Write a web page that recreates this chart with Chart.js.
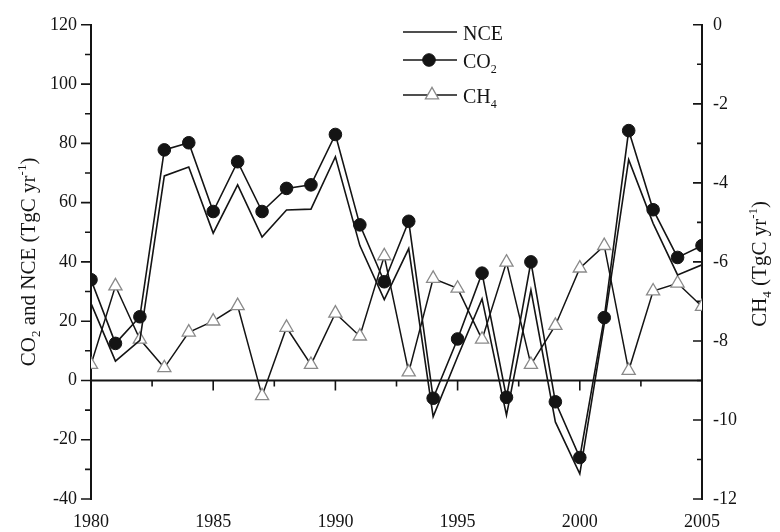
<!DOCTYPE html>
<html>
<head>
<meta charset="utf-8">
<script src="https://cdn.jsdelivr.net/npm/chart.js@4/dist/chart.umd.min.js"></script>
<style>
  body { margin: 0; background: #fff; }
</style>
</head>
<body>
<canvas id="chart" width="780" height="532"></canvas>
<script>
// data
const years = [1980, 1981, 1982, 1983, 1984, 1985, 1986, 1987, 1988, 1989, 1990, 1991, 1992,
               1993, 1994, 1995, 1996, 1997, 1998, 1999, 2000, 2001, 2002, 2003, 2004, 2005];
const co2 = [34, 12.5, 21.5, 77.8, 80.2, 57, 73.8, 57, 64.8, 66, 83, 52.5, 33.3,
             53.7, -6, 14, 36.2, -5.7, 40, -7.2, -26, 21.2, 84.3, 57.6, 41.5, 45.5];
const nce = [26, 6.5, 13.5, 69, 72, 49.7, 66, 48.4, 57.5, 57.8, 75.5, 45.5, 27.3,
             44.5, -12.2, 8, 27.5, -11.7, 30.5, -14, -31.5, 19, 74.5, 53, 35.6, 39];
const ch4 = [-8.6, -6.61, -7.96, -8.68, -7.78, -7.5, -7.11, -9.39, -7.66, -8.6, -7.3, -7.88, -5.85,
             -8.79, -6.42, -6.67, -7.96, -6.01, -8.6, -7.61, -6.16, -5.59, -8.75, -6.74, -6.54, -7.13];

const xTickLabels = [1980, 1985, 1990, 1995, 2000, 2005];
const leftTickLabels = [-40, -20, 0, 20, 40, 60, 80, 100, 120];
const rightTickLabels = [-12, -10, -8, -6, -4, -2, 0];

const ink = '#141414';
const serif = '"Liberation Serif", "Times New Roman", serif';
Chart.defaults.font.family = serif;
Chart.defaults.color = ink;

// major ticks plus one minor tick halfway between each pair
function withMinor(arr) {
  const out = [];
  arr.forEach((v, i) => {
    out.push({ v: v, major: true });
    if (i < arr.length - 1) out.push({ v: (v + arr[i + 1]) / 2, major: false });
  });
  return out;
}

// text with sub / superscripts: parts = [[text, -1 sub | 0 | 1 sup], ...]
function drawRich(ctx, parts, x, y, size, align) {
  const small = Math.round(size * 0.62);
  const fontOf = s => s + 'px ' + serif;
  let w = 0;
  parts.forEach(([t, k]) => { ctx.font = fontOf(k ? small : size); w += ctx.measureText(t).width; });
  let cx = align === 'center' ? x - w / 2 : x;
  ctx.textAlign = 'left';
  ctx.textBaseline = 'alphabetic';
  parts.forEach(([t, k]) => {
    ctx.font = fontOf(k ? small : size);
    const dy = k < 0 ? size * 0.26 : k > 0 ? -size * 0.45 : 0;
    ctx.fillText(t, cx, y + dy);
    cx += ctx.measureText(t).width;
  });
}

const axisMarks = {
  id: 'axisMarks',
  beforeDatasetsDraw(chart) {
    const { ctx, chartArea: a, scales: { x, y, y1 } } = chart;
    ctx.save();
    ctx.strokeStyle = ink;
    // x axis sits on the zero line
    const y0 = y.getPixelForValue(0);
    ctx.lineWidth = 2;
    ctx.beginPath();
    ctx.moveTo(a.left, y0);
    ctx.lineTo(a.right, y0);
    ctx.stroke();

    ctx.lineWidth = 1.6;
    ctx.beginPath();
    withMinor(xTickLabels).forEach(t => {
      const px = x.getPixelForValue(t.v);
      ctx.moveTo(px, y0);
      ctx.lineTo(px, y0 + (t.major ? 10 : 6));
    });
    withMinor(leftTickLabels).forEach(t => {
      const py = y.getPixelForValue(t.v);
      ctx.moveTo(a.left, py);
      ctx.lineTo(a.left - (t.major ? 10 : 6), py);
    });
    withMinor(rightTickLabels).forEach(t => {
      const py = y1.getPixelForValue(t.v);
      ctx.moveTo(a.right, py);
      ctx.lineTo(a.right - (t.major ? 9 : 5), py);
    });
    ctx.stroke();
    ctx.restore();
  },
  afterDraw(chart) {
    const { ctx, chartArea: a } = chart;
    const midY = (a.top + a.bottom) / 2;
    ctx.save();
    ctx.fillStyle = ink;

    // axis titles, both reading bottom to top
    ctx.save();
    ctx.translate(35, midY);
    ctx.rotate(-Math.PI / 2);
    drawRich(ctx, [['CO', 0], ['2', -1], [' and NCE (TgC yr', 0], ['-1', 1], [')', 0]], 0, 0, 21, 'center');
    ctx.restore();

    ctx.save();
    ctx.translate(766, midY + 2);
    ctx.rotate(-Math.PI / 2);
    drawRich(ctx, [['CH', 0], ['4', -1], [' (TgC yr', 0], ['-1', 1], [')', 0]], 0, 0, 21, 'center');
    ctx.restore();

    // legend
    const rows = [
      { ds: 0, y: 32, label: [['NCE', 0]] },
      { ds: 1, y: 60, label: [['CO', 0], ['2', -1]] },
      { ds: 2, y: 95, label: [['CH', 0], ['4', -1]] }
    ];
    const x0 = 403, x1 = 457;
    rows.forEach(r => {
      const d = chart.data.datasets[r.ds];
      ctx.strokeStyle = d.borderColor;
      ctx.lineWidth = d.borderWidth;
      ctx.beginPath();
      ctx.moveTo(x0, r.y);
      ctx.lineTo(x1, r.y);
      ctx.stroke();
      if (d.pointRadius > 0) {
        ctx.fillStyle = d.pointBackgroundColor;
        ctx.strokeStyle = d.pointBorderColor;
        ctx.lineWidth = d.pointBorderWidth;
        Chart.helpers.drawPoint(ctx, {
          pointStyle: d.pointStyle, radius: d.pointRadius, rotation: 0, borderWidth: d.pointBorderWidth
        }, (x0 + x1) / 2 + (d.pointStyle === 'triangle' ? 2 : -1), r.y);
      }
      ctx.fillStyle = ink;
      drawRich(ctx, r.label, 463, r.y + 7.5, 20, 'left');
    });
    ctx.restore();
  }
};

new Chart(document.getElementById('chart'), {
  type: 'line',
  data: {
    labels: years,
    datasets: [
      {
        label: 'NCE',
        data: nce,
        yAxisID: 'y',
        borderColor: ink,
        borderWidth: 1.6,
        pointRadius: 0,
        tension: 0,
        order: 1
      },
      {
        label: 'CO2',
        data: co2,
        yAxisID: 'y',
        borderColor: ink,
        borderWidth: 1.6,
        pointStyle: 'circle',
        pointRadius: 6.3,
        pointBackgroundColor: ink,
        pointBorderColor: ink,
        pointBorderWidth: 1,
        tension: 0,
        order: 0
      },
      {
        label: 'CH4',
        data: ch4,
        yAxisID: 'y1',
        borderColor: ink,
        borderWidth: 1.5,
        pointStyle: 'triangle',
        pointRadius: 7.6,
        pointBackgroundColor: '#ffffff',
        pointBorderColor: '#8a8a8a',
        pointBorderWidth: 1.3,
        tension: 0,
        order: 2
      }
    ]
  },
  options: {
    responsive: false,
    animation: false,
    devicePixelRatio: 1,
    layout: { padding: { top: 17, left: 0, right: 0, bottom: 0 } },
    plugins: {
      legend: { display: false },
      tooltip: { enabled: false }
    },
    scales: {
      x: {
        type: 'linear',
        position: 'bottom',
        min: 1980,
        max: 2005,
        afterBuildTicks: s => { s.ticks = xTickLabels.map(v => ({ value: v })); },
        afterFit: s => { s.height = 33; },
        grid: { display: false, drawTicks: false },
        border: { display: false },
        ticks: {
          padding: 12,
          maxRotation: 0,
          font: { size: 18 },
          color: ink,
          callback: v => String(v)
        }
      },
      y: {
        type: 'linear',
        position: 'left',
        min: -40,
        max: 120,
        afterBuildTicks: s => { s.ticks = leftTickLabels.map(v => ({ value: v })); },
        afterFit: s => { s.width = 91; },
        grid: { display: false, drawTicks: false },
        border: { display: true, color: ink, width: 2 },
        ticks: {
          padding: 14,
          font: { size: 18 },
          color: ink,
          callback: v => String(v)
        }
      },
      y1: {
        type: 'linear',
        position: 'right',
        min: -12,
        max: 0,
        afterBuildTicks: s => { s.ticks = rightTickLabels.map(v => ({ value: v })); },
        afterFit: s => { s.width = 78; },
        grid: { display: false, drawTicks: false },
        border: { display: true, color: ink, width: 2 },
        ticks: {
          padding: 11,
          font: { size: 18 },
          color: ink,
          callback: v => String(v)
        }
      }
    }
  },
  plugins: [axisMarks]
});
</script>
</body>
</html>
